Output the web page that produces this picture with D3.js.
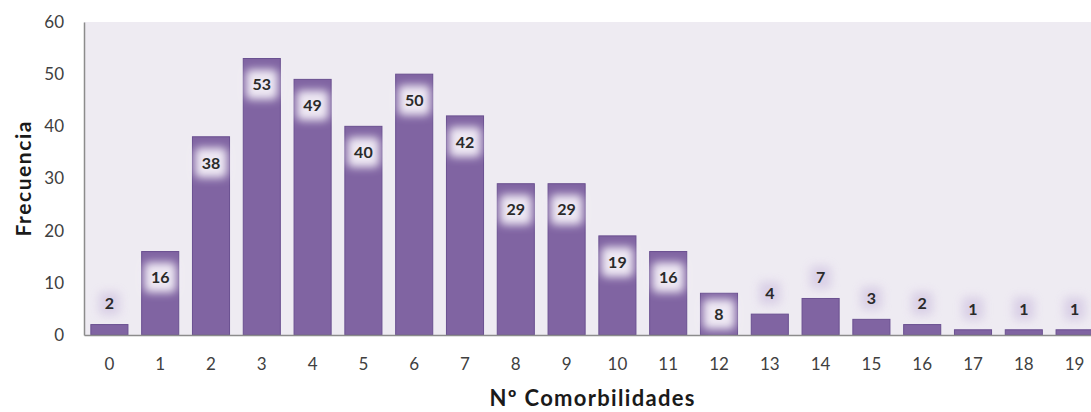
<!DOCTYPE html>
<html><head><meta charset="utf-8">
<script src="https://cdn.jsdelivr.net/npm/d3@7"></script>
<style>body{margin:0;background:#fff}svg{display:block}</style>
</head><body>
<svg id="c" width="1091" height="412"></svg>
<script>
const categories = ["0","1","2","3","4","5","6","7","8","9","10","11","12","13","14","15","16","17","18","19"];
const values = [2,16,38,53,49,40,50,42,29,29,19,16,8,4,7,3,2,1,1,1];
const yTicks = [0,10,20,30,40,50,60];
const xTitle = "Nº Comorbilidades";
const yTitle = "Frecuencia";

(function(){
const svg = d3.select("#c");
const font = "Lato, 'Open Sans', sans-serif";
const pLeft = 84, pTop = 22, pBottom = 335, pRight = 1100;

const x = d3.scaleBand().domain(categories).range([pLeft, pRight]).paddingInner(0.27).paddingOuter(0.135);
const y = d3.scaleLinear().domain([0, 60]).range([pBottom, pTop]);

const defs = svg.append("defs");
const f = defs.append("filter").attr("id","glow").attr("x","-50%").attr("y","-50%").attr("width","200%").attr("height","200%");
f.append("feGaussianBlur").attr("stdDeviation", 4);

svg.append("rect").attr("x", pLeft).attr("y", pTop).attr("width", pRight-pLeft).attr("height", pBottom-pTop).attr("fill", "#eeebf2");

svg.selectAll("rect.bar").data(values).join("rect").attr("class","bar")
  .attr("x", (d,i) => x(categories[i]))
  .attr("y", d => y(d))
  .attr("width", x.bandwidth())
  .attr("height", d => y(0) - y(d))
  .attr("fill", "#8064a2")
  .attr("stroke", "#6a5090").attr("stroke-width", 1);

const yAxis = d3.axisLeft(y).tickValues(yTicks).tickSize(0).tickPadding(20);
const gy = svg.append("g").attr("transform", `translate(${pLeft},0)`).call(yAxis);
gy.select(".domain").attr("stroke", "#8c8c8c").attr("stroke-width", 1.5);
gy.selectAll("text").attr("font-family", font).attr("font-size", 17).attr("fill", "#404040");

const xAxis = d3.axisBottom(x).tickSize(0).tickPadding(23);
const gx = svg.append("g").attr("transform", `translate(0,${pBottom})`).call(xAxis);
gx.select(".domain").attr("stroke", "#8c8c8c").attr("stroke-width", 1.5);
gx.selectAll("text").attr("font-family", font).attr("font-size", 17).attr("fill", "#404040");

const lab = svg.append("g");
values.forEach((d,i) => {
  const cx = x(categories[i]) + x.bandwidth()/2;
  const h = y(0) - y(d);
  const inside = d >= 8;
  const cy = inside ? y(d) + Math.min(26, h/2) : y(d) - 21;
  const w = inside ? 32 : (String(d).length > 1 ? 28 : 22);
  const hh = inside ? 30 : 24;
  lab.append("rect").attr("x", cx - w/2).attr("y", cy - hh/2).attr("width", w).attr("height", hh).attr("rx", 5)
    .attr("fill", inside ? "#f4f0f8" : "#d9cfe6").attr("opacity", inside ? 0.95 : 0.9).attr("filter", "url(#glow)");
  lab.append("text").attr("x", cx).attr("y", cy).attr("dy", "0.36em").attr("text-anchor", "middle")
    .attr("font-family", font).attr("font-size", 16).attr("font-weight", "bold").attr("fill", "#2a2a2a").text(d);
});

svg.append("text").attr("x", 592).attr("y", 406).attr("text-anchor","middle")
  .attr("font-family", font).attr("font-size", 22).attr("font-weight","bold").attr("fill","#1a1a1a")
  .attr("textLength", 205).attr("lengthAdjust", "spacing").text(xTitle);
svg.append("text").attr("transform", "translate(31,179) rotate(-90)").attr("text-anchor","middle")
  .attr("font-family", font).attr("font-size", 21).attr("font-weight","bold").attr("fill","#1a1a1a")
  .attr("textLength", 115).attr("lengthAdjust", "spacing").text(yTitle);
})();
</script>
</body></html>
